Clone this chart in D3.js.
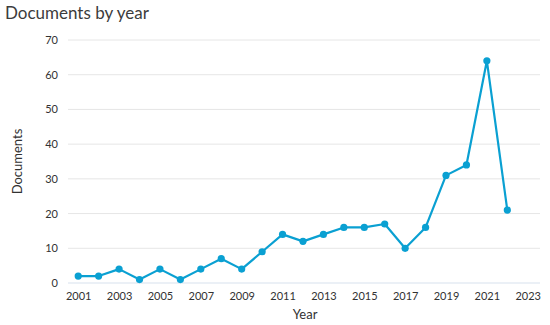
<!DOCTYPE html>
<html>
<head>
<meta charset="utf-8">
<script src="https://cdn.jsdelivr.net/npm/d3@7"></script>
<style>
  body { margin: 0; background: #fff; }
  text { font-family: "Lato", "Open Sans", sans-serif; fill: #323232; }
</style>
</head>
<body>
<div id="chart"></div>
<script>
// data
const years = [2001, 2002, 2003, 2004, 2005, 2006, 2007, 2008, 2009, 2010, 2011,
  2012, 2013, 2014, 2015, 2016, 2017, 2018, 2019, 2020, 2021, 2022];
const documents = [2, 2, 4, 1, 4, 1, 4, 7, 4, 9, 14,
  12, 14, 16, 16, 17, 10, 16, 31, 34, 64, 21];
const xTicks = [2001, 2003, 2005, 2007, 2009, 2011, 2013, 2015, 2017, 2019, 2021, 2023];
const yTicks = [0, 10, 20, 30, 40, 50, 60, 70];

const data = years.map((y, i) => ({year: y, value: documents[i]}));

const W = 550, H = 325;
let margin = {top: 40, right: 10, bottom: 42, left: 68},
  width = W - margin.left - margin.right,
  height = H - margin.top - margin.bottom;

const svg = d3.select("#chart")
  .append("svg")
  .attr("width", W)
  .attr("height", H);

const g = svg.append("g")
  .attr("transform", "translate(" + margin.left + "," + margin.top + ")");

let x = d3.scaleLinear()
  .domain([2000.5, 2023.6])
  .range([0, width]);

let y = d3.scaleLinear()
  .domain([0, 70])
  .range([height, 0]);

// title
svg.append("text")
  .attr("x", 5)
  .attr("y", 19)
  .style("font-size", "17px")
  .style("fill", "#3c3c3c")
  .text("Documents by year");

// grid lines
g.selectAll("line.grid").data(yTicks.filter(d => d > 0)).enter()
  .append("line")
  .attr("class", "grid")
  .attr("x1", 0)
  .attr("x2", width)
  .attr("y1", d => y(d))
  .attr("y2", d => y(d))
  .attr("stroke", "#e6e6e6")
  .attr("stroke-width", 1);

// baseline
g.append("line")
  .attr("x1", 0)
  .attr("x2", width)
  .attr("y1", y(0))
  .attr("y2", y(0))
  .attr("stroke", "#d8e2ee")
  .attr("stroke-width", 1.2);

// y tick labels
const yAxis = g.append("g")
  .call(d3.axisLeft(y).tickValues(yTicks).tickSize(0).tickPadding(10));
yAxis.select(".domain").remove();
yAxis.selectAll("text")
  .style("font-size", "11px")
  .style("font-family", "Lato, sans-serif")
  .attr("fill", "#323232");

// x tick labels
const xAxis = g.append("g")
  .attr("transform", `translate(0, ${height})`)
  .call(d3.axisBottom(x).tickValues(xTicks).tickFormat(d3.format("d")).tickSize(0).tickPadding(9));
xAxis.select(".domain").remove();
xAxis.selectAll("text")
  .style("font-size", "11px")
  .style("font-family", "Lato, sans-serif")
  .attr("fill", "#323232");

// axis titles
svg.append("text")
  .attr("transform", "translate(22," + (margin.top + height / 2) + ") rotate(-90)")
  .attr("text-anchor", "middle")
  .style("font-size", "13px")
  .text("Documents");

svg.append("text")
  .attr("x", 305)
  .attr("y", 319)
  .attr("text-anchor", "middle")
  .style("font-size", "13px")
  .text("Year");

// the line
const color = "#0aa0d2";
g.append("path")
  .datum(data)
  .attr("fill", "none")
  .attr("stroke", color)
  .attr("stroke-width", 2.2)
  .attr("stroke-linejoin", "round")
  .attr("d", d3.line()
    .x(d => x(d.year))
    .y(d => y(d.value)));

// points
g.selectAll("circle.dot")
  .data(data)
  .enter()
  .append("circle")
  .attr("class", "dot")
  .attr("cx", d => x(d.year))
  .attr("cy", d => y(d.value))
  .attr("r", 3.6)
  .attr("fill", color);
</script>
</body>
</html>
